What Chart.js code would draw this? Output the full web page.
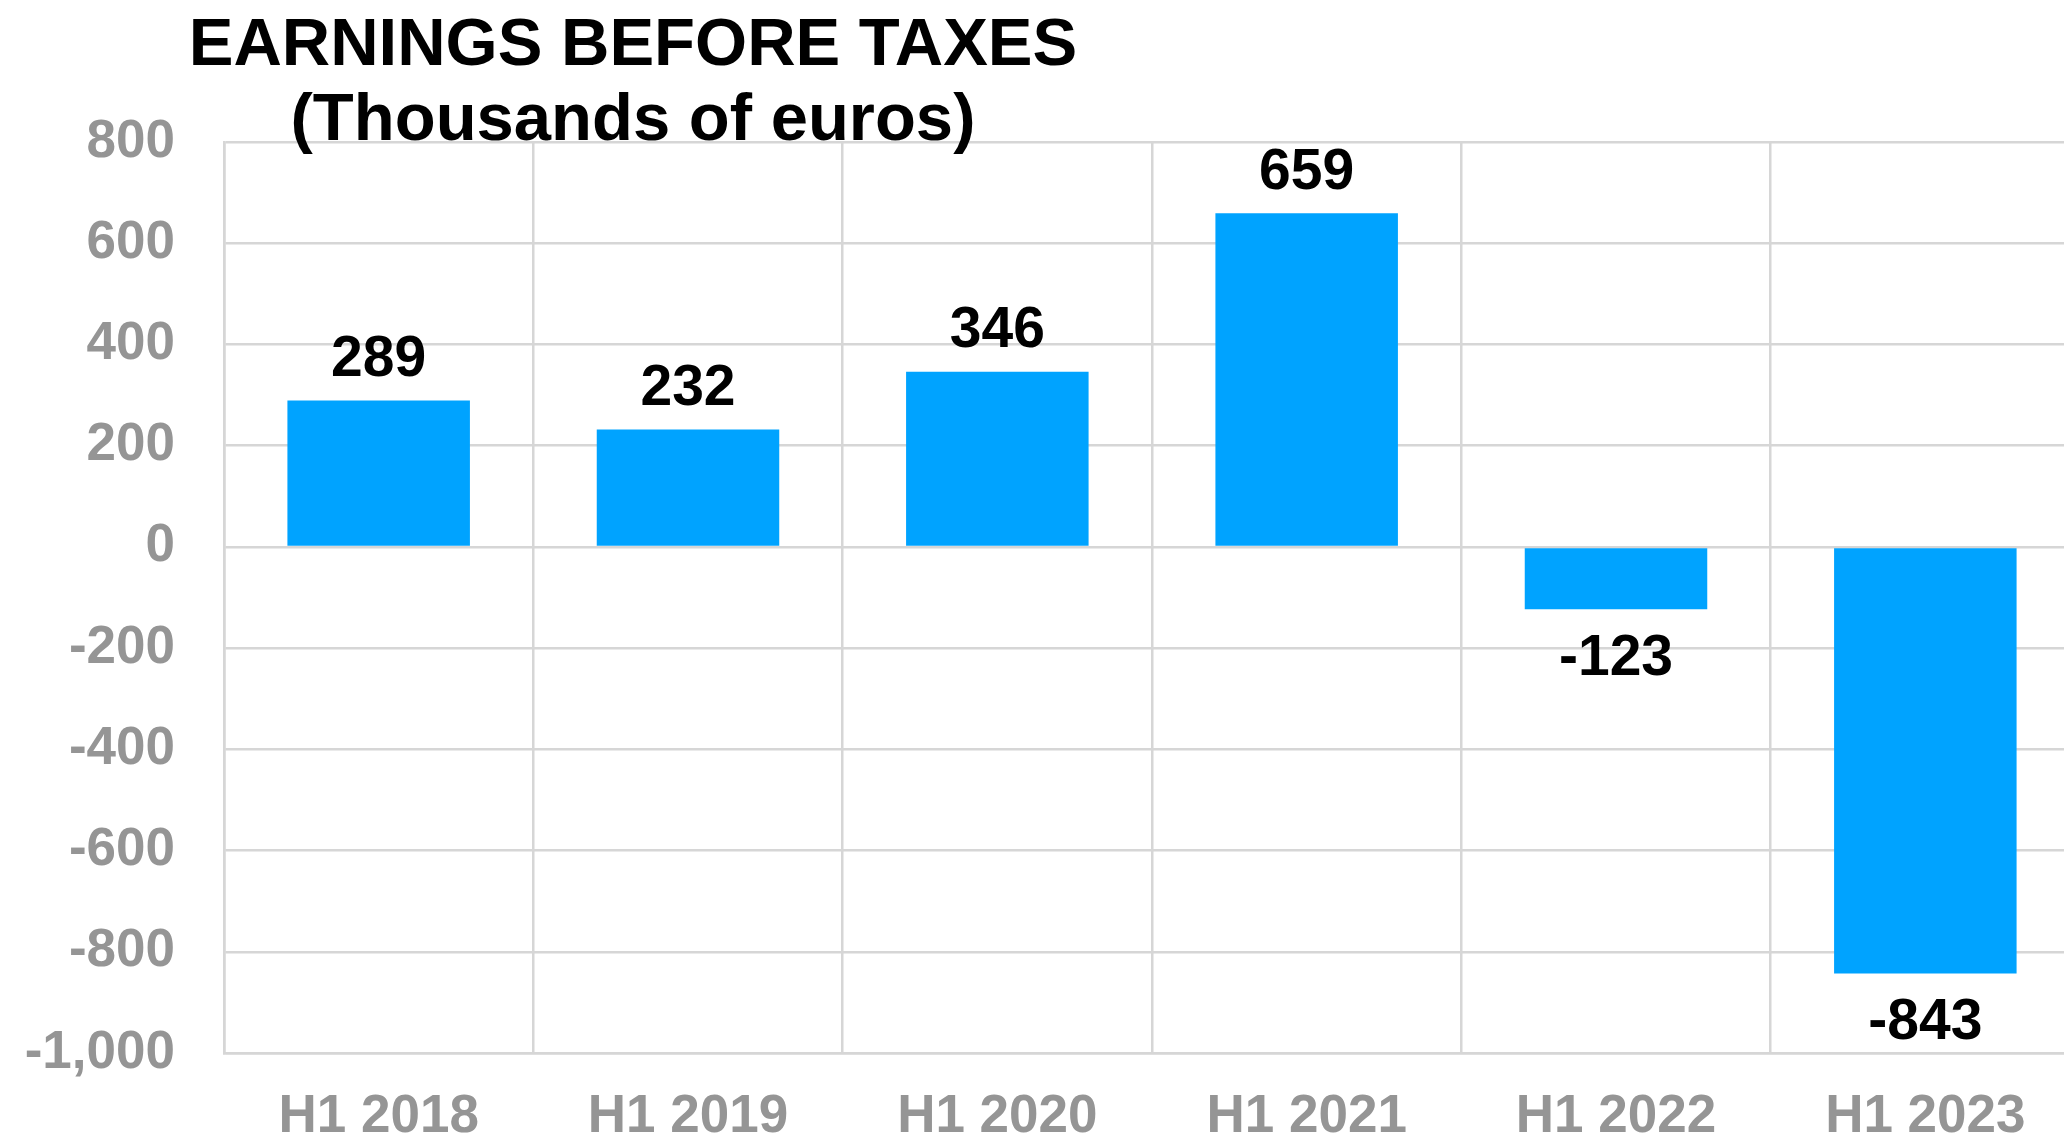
<!DOCTYPE html>
<html>
<head>
<meta charset="utf-8">
<script src="https://cdn.jsdelivr.net/npm/chart.js@4.4.0/dist/chart.umd.min.js"></script>
<style>
  html, body { margin: 0; padding: 0; background: #fff; overflow: hidden; }
  #wrap { width: 2064px; height: 1145px; overflow: hidden; }
</style>
</head>
<body>
<div id="wrap"><canvas id="ebtChart" width="2080" height="1145"></canvas></div>
<script>
const periods = ['H1 2018', 'H1 2019', 'H1 2020', 'H1 2021', 'H1 2022', 'H1 2023'];
const earnings = [289, 232, 346, 659, -123, -843];
const titleLines = ['EARNINGS BEFORE TAXES', '(Thousands of euros)'];

const FONT = '"Liberation Sans", Arial, sans-serif';
const GREY = '#959595';
const GRID = '#D6D6D6';

// bar value labels, above positive bars and below negative ones
const valueLabels = {
    id: 'valueLabels',
    afterDatasetsDraw(chart) {
        const ctx = chart.ctx;
        const meta = chart.getDatasetMeta(0);
        ctx.save();
        ctx.font = 'bold 57px ' + FONT;
        ctx.fillStyle = '#000';
        ctx.textAlign = 'center';
        ctx.textBaseline = 'middle';
        meta.data.forEach((bar, i) => {
            const v = earnings[i];
            const y = v >= 0 ? bar.y - 40 : bar.y + 50;
            ctx.fillText(v.toLocaleString('en-US'), bar.x, y);
        });
        ctx.restore();
    }
};

// two-line title sitting over the top left of the plot
const chartTitle = {
    id: 'chartTitle',
    afterDraw(chart) {
        const ctx = chart.ctx;
        ctx.save();
        ctx.font = 'bold 67px ' + FONT;
        ctx.fillStyle = '#000';
        ctx.textAlign = 'center';
        ctx.textBaseline = 'middle';
        ctx.fillText(titleLines[0], 633, 47);
        ctx.fillText(titleLines[1], 633, 122);
        ctx.restore();
    }
};

new Chart(document.getElementById('ebtChart'), {
    type: 'bar',
    data: {
        labels: periods,
        datasets: [{
            data: earnings,
            backgroundColor: '#00A3FF',
            borderWidth: 0,
            categoryPercentage: 1,
            barPercentage: 0.59
        }]
    },
    options: {
        responsive: false,
        animation: false,
        layout: { padding: { top: 142, right: 0, bottom: 0, left: 0 } },
        plugins: {
            legend: { display: false },
            title: { display: false },
            tooltip: { enabled: false }
        },
        scales: {
            x: {
                grid: { color: GRID, lineWidth: 2.5, drawTicks: false, offset: true },
                border: { color: GRID, width: 2.5 },
                ticks: {
                    color: GREY,
                    font: { family: FONT, size: 53, weight: 'bold' },
                    padding: 33,
                    maxRotation: 0
                },
                afterFit(scale) { scale.height = 92; }
            },
            y: {
                min: -1000,
                max: 800,
                grid: { color: GRID, lineWidth: 2.5, drawTicks: false },
                border: { color: GRID, width: 2.5 },
                ticks: {
                    stepSize: 200,
                    color: GREY,
                    font: { family: FONT, size: 53, weight: 'bold' },
                    padding: 49,
                    callback: v => v.toLocaleString('en-US')
                },
                afterFit(scale) { scale.width = 224; }
            }
        }
    },
    plugins: [valueLabels, chartTitle]
});
</script>
</body>
</html>
